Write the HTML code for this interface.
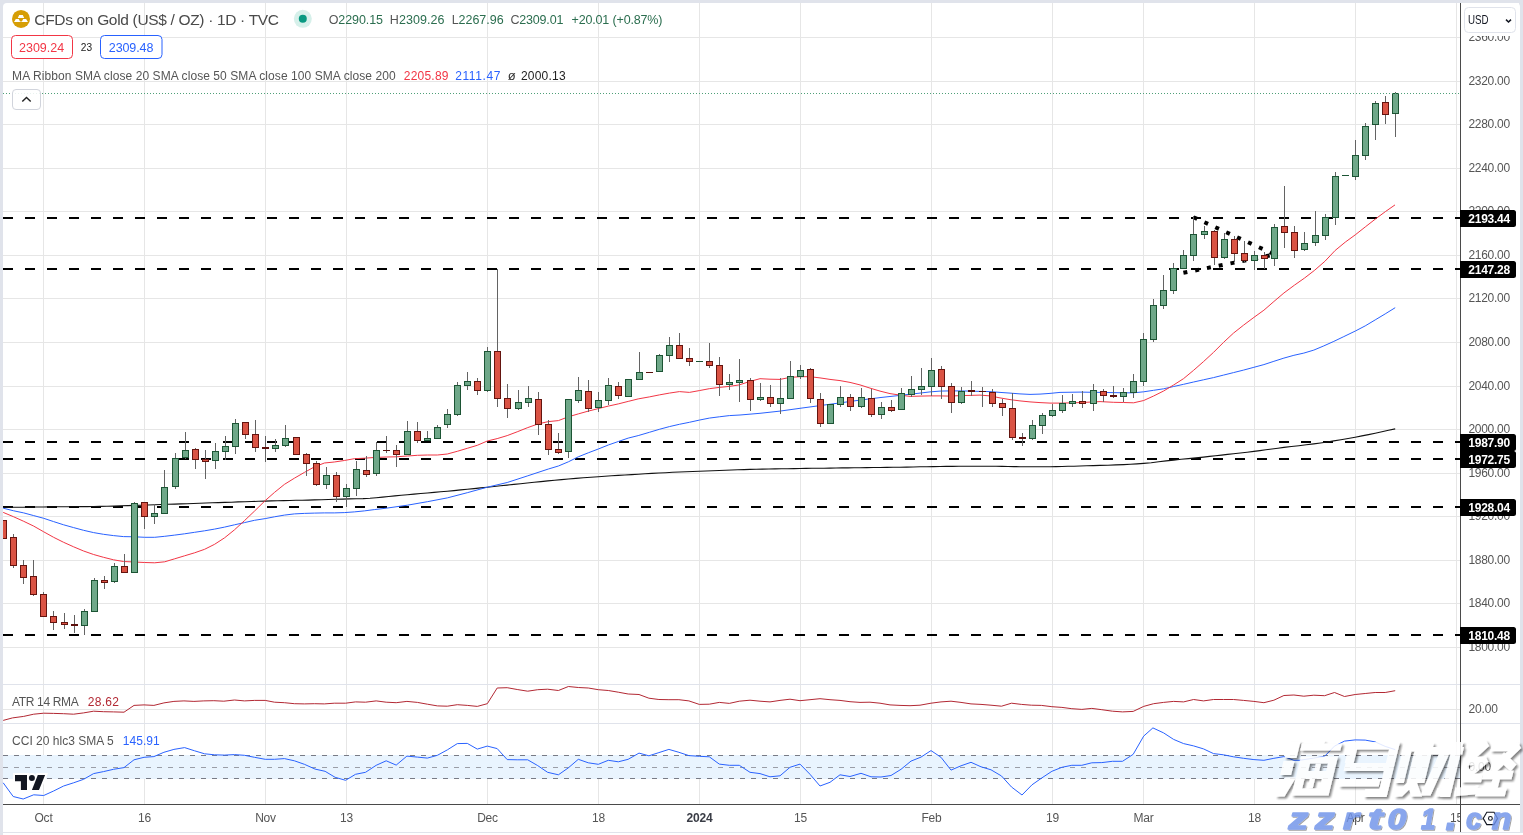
<!DOCTYPE html><html><head><meta charset="utf-8"><title>chart</title><style>
html,body{margin:0;padding:0;background:#fff;}body{width:1523px;height:835px;overflow:hidden;}
svg{display:block;opacity:0.999;font-family:"Liberation Sans", sans-serif;}
.c{shape-rendering:crispEdges}
.ax{font-size:12px;fill:#555;letter-spacing:-0.25px}
.bl{font-size:12px;fill:#fff;font-weight:bold;letter-spacing:-0.25px}
.tm{font-size:12px;fill:#555;text-anchor:middle;letter-spacing:-0.2px}
.lg{font-size:12px;fill:#555;letter-spacing:-0.15px}
</style></head><body>
<svg width="1523" height="835" viewBox="0 0 1523 835">
<rect x="0" y="0" width="1523" height="835" fill="#e0e3eb"/>
<rect x="3" y="3" width="1517" height="829" rx="4" ry="4" fill="#fff"/>
<rect x="3" y="10" width="1517" height="822" fill="#fff"/>
<rect x="3" y="833" width="1520" height="2" fill="#fff"/>
<g class="c">
<rect x="43" y="3" width="1" height="801" fill="#e6e6e6"/>
<rect x="144" y="3" width="1" height="801" fill="#e6e6e6"/>
<rect x="265" y="3" width="1" height="801" fill="#e6e6e6"/>
<rect x="346" y="3" width="1" height="801" fill="#e6e6e6"/>
<rect x="487" y="3" width="1" height="801" fill="#e6e6e6"/>
<rect x="598" y="3" width="1" height="801" fill="#e6e6e6"/>
<rect x="699" y="3" width="1" height="801" fill="#e6e6e6"/>
<rect x="800" y="3" width="1" height="801" fill="#e6e6e6"/>
<rect x="931" y="3" width="1" height="801" fill="#e6e6e6"/>
<rect x="1052" y="3" width="1" height="801" fill="#e6e6e6"/>
<rect x="1143" y="3" width="1" height="801" fill="#e6e6e6"/>
<rect x="1254" y="3" width="1" height="801" fill="#e6e6e6"/>
<rect x="1355" y="3" width="1" height="801" fill="#e6e6e6"/>
<rect x="1456" y="3" width="1" height="801" fill="#e6e6e6"/>
<rect x="3" y="37" width="1457" height="1" fill="#e6e6e6"/>
<rect x="3" y="81" width="1457" height="1" fill="#e6e6e6"/>
<rect x="3" y="124" width="1457" height="1" fill="#e6e6e6"/>
<rect x="3" y="168" width="1457" height="1" fill="#e6e6e6"/>
<rect x="3" y="211" width="1457" height="1" fill="#e6e6e6"/>
<rect x="3" y="255" width="1457" height="1" fill="#e6e6e6"/>
<rect x="3" y="298" width="1457" height="1" fill="#e6e6e6"/>
<rect x="3" y="342" width="1457" height="1" fill="#e6e6e6"/>
<rect x="3" y="386" width="1457" height="1" fill="#e6e6e6"/>
<rect x="3" y="429" width="1457" height="1" fill="#e6e6e6"/>
<rect x="3" y="473" width="1457" height="1" fill="#e6e6e6"/>
<rect x="3" y="516" width="1457" height="1" fill="#e6e6e6"/>
<rect x="3" y="560" width="1457" height="1" fill="#e6e6e6"/>
<rect x="3" y="603" width="1457" height="1" fill="#e6e6e6"/>
<rect x="3" y="647" width="1457" height="1" fill="#e6e6e6"/>
<rect x="3" y="709" width="1457" height="1" fill="#e6e6e6"/>
<rect x="3" y="767" width="1457" height="1" fill="#e6e6e6"/>
<rect x="3" y="755" width="1457" height="24" fill="#e9f4fe"/>
</g>
<line class="c" x1="3" x2="1460" y1="755.5" y2="755.5" stroke="#787b86" stroke-width="1" stroke-dasharray="5 6"/>
<line class="c" x1="3" x2="1460" y1="767.5" y2="767.5" stroke="#9a9da6" stroke-width="1" stroke-dasharray="5 6"/>
<line class="c" x1="3" x2="1460" y1="778.5" y2="778.5" stroke="#787b86" stroke-width="1" stroke-dasharray="5 6"/>
<g class="c">
<rect x="3" y="684" width="1517" height="1" fill="#e0e3eb"/>
<rect x="3" y="723" width="1517" height="1" fill="#e0e3eb"/>
</g>
<g class="c">
<line x1="3" x2="1460" y1="218" y2="218" stroke="#000" stroke-width="2" stroke-dasharray="10 12"/>
<line x1="3" x2="1460" y1="269" y2="269" stroke="#000" stroke-width="2" stroke-dasharray="10 12"/>
<line x1="3" x2="1460" y1="442" y2="442" stroke="#000" stroke-width="2" stroke-dasharray="10 12"/>
<line x1="3" x2="1460" y1="459" y2="459" stroke="#000" stroke-width="2" stroke-dasharray="10 12"/>
<line x1="3" x2="1460" y1="507" y2="507" stroke="#000" stroke-width="2" stroke-dasharray="10 12"/>
<line x1="3" x2="1460" y1="635" y2="635" stroke="#000" stroke-width="2" stroke-dasharray="10 12"/>
</g>
<line x1="1193.5" y1="217.2" x2="1272" y2="253.25" stroke="#000" stroke-width="4" stroke-dasharray="4 8"/>
<line x1="1183.4" y1="272.8" x2="1270.5" y2="255.37" stroke="#000" stroke-width="4" stroke-dasharray="4 8"/>
<polyline points="3.2,507.4 9.9,507.3 16.6,507.3 23.3,507.2 29.9,507.1 36.6,507.0 43.3,507.0 50.0,506.9 56.2,506.8 62.5,506.8 68.8,506.7 75.0,506.7 81.2,506.6 87.5,506.6 93.8,506.5 100.0,506.4 106.9,506.3 113.9,506.1 120.8,505.8 127.8,505.6 134.7,505.4 141.4,505.2 148.0,505.0 154.7,504.8 161.4,504.5 168.0,504.3 174.7,504.1 180.9,503.9 187.2,503.7 193.4,503.5 199.6,503.2 205.9,503.0 212.1,502.8 218.4,502.6 224.6,502.4 231.4,502.2 238.1,501.9 244.9,501.7 251.7,501.5 258.4,501.3 265.2,501.1 271.3,500.9 277.5,500.8 283.6,500.6 289.8,500.5 295.9,500.3 302.1,500.2 308.2,500.1 314.4,499.9 321.4,499.7 328.4,499.5 335.3,499.3 342.3,499.1 349.3,498.9 356.2,498.7 363.1,498.6 370.0,498.2 376.2,497.7 382.5,497.1 388.7,496.5 394.9,495.9 401.2,495.3 407.4,494.7 414.0,494.1 420.7,493.5 427.4,493.0 434.0,492.4 440.6,491.8 447.3,491.2 454.0,490.6 460.6,489.9 467.3,489.2 474.0,488.6 480.6,487.9 487.3,487.2 494.0,486.5 500.6,485.8 507.2,485.1 513.9,484.4 520.6,483.7 527.2,483.0 534.1,482.3 540.9,481.6 547.8,480.9 554.7,480.3 561.5,479.6 568.4,479.0 575.9,478.4 583.3,477.8 590.8,477.2 598.3,476.7 604.9,476.3 611.6,475.8 618.2,475.4 624.9,475.0 631.6,474.6 638.2,474.2 645.1,473.8 651.9,473.4 658.8,473.0 665.7,472.7 672.5,472.3 679.4,472.0 686.0,471.7 692.7,471.5 699.3,471.2 706.0,471.0 712.6,470.7 719.3,470.5 725.4,470.3 731.6,470.0 737.7,469.8 743.9,469.6 750.0,469.4 756.2,469.3 762.5,469.1 768.8,469.0 775.0,468.9 781.2,468.8 787.5,468.7 793.8,468.6 800.0,468.5 806.0,468.4 812.0,468.3 818.0,468.2 824.0,468.2 830.0,468.1 836.0,468.0 842.0,467.9 848.0,467.9 854.0,467.8 860.0,467.7 866.7,467.6 873.3,467.5 880.0,467.5 886.7,467.4 893.3,467.3 900.0,467.2 906.7,467.1 913.3,467.0 920.0,466.8 926.7,466.7 933.3,466.6 940.0,466.5 946.2,466.4 952.5,466.4 958.8,466.3 965.0,466.3 971.2,466.2 977.5,466.2 983.8,466.2 990.0,466.2 996.0,466.3 1002.0,466.4 1008.0,466.5 1014.0,466.6 1020.0,466.7 1026.0,466.7 1032.0,466.8 1038.0,466.8 1044.0,466.8 1050.0,466.7 1056.0,466.6 1062.0,466.5 1068.0,466.3 1074.0,466.2 1080.0,466.0 1086.7,465.8 1093.3,465.6 1100.0,465.4 1107.9,465.2 1115.8,464.9 1123.7,464.6 1130.4,464.3 1137.0,463.9 1143.7,463.4 1151.2,462.7 1158.7,461.8 1166.1,460.9 1173.6,460.1 1181.1,459.3 1188.5,458.6 1196.0,457.9 1203.5,457.1 1209.5,456.4 1215.5,455.8 1221.5,455.1 1227.5,454.4 1233.5,453.7 1240.3,453.0 1247.1,452.2 1253.9,451.4 1259.9,450.6 1265.9,449.8 1271.9,449.0 1277.9,448.2 1283.9,447.4 1291.4,446.5 1298.8,445.7 1306.3,444.8 1313.8,443.9 1320.5,443.0 1327.1,442.0 1333.8,440.9 1340.9,439.7 1348.1,438.5 1355.2,437.2 1361.9,435.9 1368.5,434.6 1375.2,433.2 1381.9,431.8 1388.5,430.3 1395.2,428.9" fill="none" stroke="#111" stroke-width="1.1" stroke-linejoin="round" />
<polyline points="3.2,508.2 13.7,510.8 23.7,512.9 33.7,515.6 43.7,518.3 53.6,521.6 63.6,524.8 73.6,527.6 83.6,530.3 93.6,532.6 103.5,534.3 113.5,535.6 123.5,536.6 134.7,536.8 144.7,537.3 154.7,537.3 164.7,536.3 174.7,535.1 184.6,533.8 194.6,532.3 204.6,530.8 214.6,529.1 224.6,527.1 234.5,524.8 244.5,522.6 254.5,520.3 265.2,518.6 274.5,516.8 284.4,515.1 294.4,513.9 304.4,513.4 314.4,513.1 324.4,512.9 334.3,512.9 344.3,512.6 354.3,511.9 364.3,510.9 374.3,509.6 386.2,508.2 407.4,505.2 427.4,501.7 447.3,497.9 467.3,492.7 487.3,487.2 507.2,482.5 527.2,476.0 548.4,469.0 558.4,466.0 568.4,461.8 578.3,456.8 588.3,452.8 598.3,449.0 608.3,445.0 618.3,441.5 628.2,438.1 638.2,435.6 649.4,432.3 659.4,429.3 669.4,426.6 679.4,424.3 689.4,422.3 699.3,420.1 709.3,418.1 719.3,416.8 729.3,415.6 740.0,415.0 760.0,413.3 780.0,411.1 800.0,408.3 820.0,405.6 840.0,402.9 860.0,400.1 880.0,397.6 900.0,395.4 920.0,393.1 930.0,391.9 940.0,391.1 950.0,390.9 960.0,390.9 970.0,391.1 980.0,391.4 990.0,391.6 1000.0,392.4 1010.0,393.1 1020.0,393.9 1030.0,394.4 1040.0,394.1 1050.0,393.4 1060.0,392.4 1080.0,392.1 1100.0,392.4 1123.7,392.8 1133.7,392.8 1143.7,391.8 1153.6,390.3 1163.6,388.8 1173.6,386.5 1183.6,384.3 1193.6,382.0 1203.5,379.8 1213.5,377.6 1223.5,375.1 1233.5,372.6 1243.5,370.1 1253.9,367.3 1263.9,364.6 1273.9,361.3 1283.9,358.1 1293.9,355.3 1303.8,353.1 1313.8,350.1 1323.8,345.9 1333.8,341.4 1343.8,336.6 1355.2,331.1 1365.2,325.9 1375.2,319.9 1385.2,313.9 1395.2,307.7" fill="none" stroke="#2962ff" stroke-width="1.0" stroke-linejoin="round" />
<polyline points="3.2,512.4 13.7,516.8 23.7,521.3 33.7,526.1 43.7,531.8 53.6,537.3 63.6,542.3 73.6,546.8 83.6,551.0 93.6,554.5 103.5,557.3 113.5,559.8 123.5,561.5 134.7,562.0 144.7,562.5 154.7,562.8 164.7,561.8 174.7,558.8 184.6,555.8 194.6,552.8 204.6,549.3 214.6,544.3 224.6,537.8 234.5,529.8 244.5,520.6 254.5,511.1 265.2,500.6 274.5,492.4 284.4,484.4 294.4,478.2 304.4,472.4 314.4,466.9 324.4,463.0 334.3,462.0 344.3,460.5 354.3,458.7 364.3,458.2 374.3,457.5 386.2,457.0 396.2,456.8 407.4,456.0 417.4,455.3 427.4,455.0 437.4,455.0 447.3,454.0 457.3,451.3 467.3,448.3 477.3,445.3 487.3,441.0 497.2,438.6 507.2,435.6 517.2,431.8 527.2,427.8 538.4,423.8 548.4,421.6 558.4,420.6 568.4,416.8 578.3,413.9 588.3,411.1 598.3,408.6 608.3,406.1 618.3,403.9 628.2,401.4 638.2,398.9 649.4,396.9 659.4,394.9 669.4,393.1 679.4,391.6 689.4,392.4 699.3,390.6 709.3,388.7 719.3,387.4 729.3,386.4 739.3,384.9 750.0,381.4 760.0,378.7 770.0,379.2 780.0,379.4 790.0,377.4 800.0,376.7 810.0,376.7 820.0,377.9 830.0,379.4 840.0,380.6 850.0,382.4 860.0,384.9 870.0,388.1 880.0,391.1 890.0,393.6 900.0,395.1 910.0,396.4 920.0,396.1 930.0,395.9 940.0,395.9 950.0,396.1 960.0,395.6 970.0,395.4 980.0,395.1 990.0,395.9 1000.0,397.9 1010.0,399.6 1020.0,400.9 1030.0,401.9 1040.0,402.6 1050.0,403.1 1060.0,403.1 1070.0,402.9 1080.0,402.6 1090.0,402.1 1100.0,401.6 1113.7,402.3 1123.7,402.5 1133.7,402.8 1143.7,400.5 1153.6,396.0 1163.6,391.0 1173.6,385.0 1183.6,378.6 1193.6,370.3 1203.5,361.6 1213.5,352.4 1223.5,342.4 1233.5,333.1 1243.5,325.2 1253.9,317.4 1263.9,310.2 1273.9,301.5 1283.9,293.0 1294.4,285.2 1304.6,278.0 1314.7,270.2 1324.9,261.3 1335.1,250.5 1345.3,242.1 1355.2,234.9 1365.3,226.9 1375.3,219.1 1385.4,211.6 1395.0,204.9" fill="none" stroke="#f23645" stroke-width="1.0" stroke-linejoin="round" />
<clipPath id="mc"><rect x="3" y="3" width="1457" height="801"/></clipPath>
<g class="c" clip-path="url(#mc)">
<rect x="3" y="520" width="1" height="19" fill="#636363"/>
<rect x="0" y="520" width="7" height="19" fill="#64140f"/>
<rect x="1" y="521" width="5" height="17" fill="#da5344"/>
<rect x="13" y="534" width="1" height="34" fill="#636363"/>
<rect x="10" y="537" width="7" height="29" fill="#64140f"/>
<rect x="11" y="538" width="5" height="27" fill="#da5344"/>
<rect x="23" y="560" width="1" height="24" fill="#636363"/>
<rect x="20" y="565" width="7" height="13" fill="#64140f"/>
<rect x="21" y="566" width="5" height="11" fill="#da5344"/>
<rect x="33" y="560" width="1" height="36" fill="#636363"/>
<rect x="30" y="576" width="7" height="19" fill="#64140f"/>
<rect x="31" y="577" width="5" height="17" fill="#da5344"/>
<rect x="43" y="592" width="1" height="25" fill="#636363"/>
<rect x="40" y="594" width="7" height="23" fill="#64140f"/>
<rect x="41" y="595" width="5" height="21" fill="#da5344"/>
<rect x="53" y="611" width="1" height="19" fill="#636363"/>
<rect x="50" y="616" width="7" height="7" fill="#64140f"/>
<rect x="51" y="617" width="5" height="5" fill="#da5344"/>
<rect x="64" y="613" width="1" height="16" fill="#636363"/>
<rect x="61" y="622" width="7" height="3" fill="#64140f"/>
<rect x="62" y="623" width="5" height="1" fill="#da5344"/>
<rect x="74" y="615" width="1" height="18" fill="#636363"/>
<rect x="71" y="624" width="7" height="2" fill="#5c100c"/>
<rect x="84" y="609" width="1" height="26" fill="#636363"/>
<rect x="81" y="611" width="7" height="15" fill="#1c5434"/>
<rect x="82" y="612" width="5" height="13" fill="#6fa889"/>
<rect x="94" y="578" width="1" height="34" fill="#636363"/>
<rect x="91" y="580" width="7" height="32" fill="#1c5434"/>
<rect x="92" y="581" width="5" height="30" fill="#6fa889"/>
<rect x="104" y="576" width="1" height="13" fill="#636363"/>
<rect x="101" y="580" width="7" height="3" fill="#64140f"/>
<rect x="102" y="581" width="5" height="1" fill="#da5344"/>
<rect x="114" y="563" width="1" height="20" fill="#636363"/>
<rect x="111" y="566" width="7" height="16" fill="#1c5434"/>
<rect x="112" y="567" width="5" height="14" fill="#6fa889"/>
<rect x="124" y="554" width="1" height="19" fill="#636363"/>
<rect x="121" y="566" width="7" height="7" fill="#64140f"/>
<rect x="122" y="567" width="5" height="5" fill="#da5344"/>
<rect x="134" y="502" width="1" height="71" fill="#636363"/>
<rect x="131" y="503" width="7" height="70" fill="#1c5434"/>
<rect x="132" y="504" width="5" height="68" fill="#6fa889"/>
<rect x="144" y="502" width="1" height="27" fill="#636363"/>
<rect x="141" y="502" width="7" height="15" fill="#64140f"/>
<rect x="142" y="503" width="5" height="13" fill="#da5344"/>
<rect x="154" y="504" width="1" height="20" fill="#636363"/>
<rect x="151" y="513" width="7" height="4" fill="#1c5434"/>
<rect x="152" y="514" width="5" height="2" fill="#6fa889"/>
<rect x="164" y="470" width="1" height="44" fill="#636363"/>
<rect x="161" y="487" width="7" height="27" fill="#1c5434"/>
<rect x="162" y="488" width="5" height="25" fill="#6fa889"/>
<rect x="175" y="453" width="1" height="36" fill="#636363"/>
<rect x="172" y="458" width="7" height="29" fill="#1c5434"/>
<rect x="173" y="459" width="5" height="27" fill="#6fa889"/>
<rect x="185" y="432" width="1" height="27" fill="#636363"/>
<rect x="182" y="450" width="7" height="8" fill="#1c5434"/>
<rect x="183" y="451" width="5" height="6" fill="#6fa889"/>
<rect x="195" y="448" width="1" height="21" fill="#636363"/>
<rect x="192" y="449" width="7" height="11" fill="#64140f"/>
<rect x="193" y="450" width="5" height="9" fill="#da5344"/>
<rect x="205" y="450" width="1" height="29" fill="#636363"/>
<rect x="202" y="459" width="7" height="3" fill="#64140f"/>
<rect x="203" y="460" width="5" height="1" fill="#da5344"/>
<rect x="215" y="443" width="1" height="26" fill="#636363"/>
<rect x="212" y="451" width="7" height="10" fill="#1c5434"/>
<rect x="213" y="452" width="5" height="8" fill="#6fa889"/>
<rect x="225" y="436" width="1" height="24" fill="#636363"/>
<rect x="222" y="446" width="7" height="6" fill="#1c5434"/>
<rect x="223" y="447" width="5" height="4" fill="#6fa889"/>
<rect x="235" y="419" width="1" height="35" fill="#636363"/>
<rect x="232" y="423" width="7" height="24" fill="#1c5434"/>
<rect x="233" y="424" width="5" height="22" fill="#6fa889"/>
<rect x="245" y="422" width="1" height="17" fill="#636363"/>
<rect x="242" y="422" width="7" height="13" fill="#64140f"/>
<rect x="243" y="423" width="5" height="11" fill="#da5344"/>
<rect x="255" y="420" width="1" height="32" fill="#636363"/>
<rect x="252" y="434" width="7" height="14" fill="#64140f"/>
<rect x="253" y="435" width="5" height="12" fill="#da5344"/>
<rect x="265" y="436" width="1" height="26" fill="#636363"/>
<rect x="262" y="447" width="7" height="2" fill="#5c100c"/>
<rect x="275" y="439" width="1" height="13" fill="#636363"/>
<rect x="272" y="445" width="7" height="4" fill="#1c5434"/>
<rect x="273" y="446" width="5" height="2" fill="#6fa889"/>
<rect x="285" y="425" width="1" height="22" fill="#636363"/>
<rect x="282" y="438" width="7" height="8" fill="#1c5434"/>
<rect x="283" y="439" width="5" height="6" fill="#6fa889"/>
<rect x="296" y="437" width="1" height="18" fill="#636363"/>
<rect x="293" y="437" width="7" height="18" fill="#64140f"/>
<rect x="294" y="438" width="5" height="16" fill="#da5344"/>
<rect x="306" y="453" width="1" height="23" fill="#636363"/>
<rect x="303" y="454" width="7" height="10" fill="#64140f"/>
<rect x="304" y="455" width="5" height="8" fill="#da5344"/>
<rect x="316" y="461" width="1" height="25" fill="#636363"/>
<rect x="313" y="463" width="7" height="22" fill="#64140f"/>
<rect x="314" y="464" width="5" height="20" fill="#da5344"/>
<rect x="326" y="467" width="1" height="22" fill="#636363"/>
<rect x="323" y="475" width="7" height="10" fill="#1c5434"/>
<rect x="324" y="476" width="5" height="8" fill="#6fa889"/>
<rect x="336" y="472" width="1" height="30" fill="#636363"/>
<rect x="333" y="475" width="7" height="22" fill="#64140f"/>
<rect x="334" y="476" width="5" height="20" fill="#da5344"/>
<rect x="346" y="484" width="1" height="23" fill="#636363"/>
<rect x="343" y="488" width="7" height="9" fill="#1c5434"/>
<rect x="344" y="489" width="5" height="7" fill="#6fa889"/>
<rect x="356" y="461" width="1" height="35" fill="#636363"/>
<rect x="353" y="469" width="7" height="20" fill="#1c5434"/>
<rect x="354" y="470" width="5" height="18" fill="#6fa889"/>
<rect x="366" y="456" width="1" height="21" fill="#636363"/>
<rect x="363" y="470" width="7" height="5" fill="#64140f"/>
<rect x="364" y="471" width="5" height="3" fill="#da5344"/>
<rect x="376" y="442" width="1" height="34" fill="#636363"/>
<rect x="373" y="450" width="7" height="24" fill="#1c5434"/>
<rect x="374" y="451" width="5" height="22" fill="#6fa889"/>
<rect x="386" y="436" width="1" height="17" fill="#636363"/>
<rect x="383" y="450" width="7" height="1" fill="#5c100c"/>
<rect x="396" y="445" width="1" height="22" fill="#636363"/>
<rect x="393" y="450" width="7" height="5" fill="#64140f"/>
<rect x="394" y="451" width="5" height="3" fill="#da5344"/>
<rect x="407" y="421" width="1" height="34" fill="#636363"/>
<rect x="404" y="431" width="7" height="24" fill="#1c5434"/>
<rect x="405" y="432" width="5" height="22" fill="#6fa889"/>
<rect x="417" y="422" width="1" height="21" fill="#636363"/>
<rect x="414" y="431" width="7" height="10" fill="#64140f"/>
<rect x="415" y="432" width="5" height="8" fill="#da5344"/>
<rect x="427" y="431" width="1" height="10" fill="#636363"/>
<rect x="424" y="438" width="7" height="3" fill="#1c5434"/>
<rect x="425" y="439" width="5" height="1" fill="#6fa889"/>
<rect x="437" y="425" width="1" height="14" fill="#636363"/>
<rect x="434" y="427" width="7" height="12" fill="#1c5434"/>
<rect x="435" y="428" width="5" height="10" fill="#6fa889"/>
<rect x="447" y="409" width="1" height="19" fill="#636363"/>
<rect x="444" y="414" width="7" height="11" fill="#1c5434"/>
<rect x="445" y="415" width="5" height="9" fill="#6fa889"/>
<rect x="457" y="382" width="1" height="34" fill="#636363"/>
<rect x="454" y="385" width="7" height="30" fill="#1c5434"/>
<rect x="455" y="386" width="5" height="28" fill="#6fa889"/>
<rect x="467" y="372" width="1" height="18" fill="#636363"/>
<rect x="464" y="381" width="7" height="5" fill="#1c5434"/>
<rect x="465" y="382" width="5" height="3" fill="#6fa889"/>
<rect x="477" y="378" width="1" height="17" fill="#636363"/>
<rect x="474" y="381" width="7" height="10" fill="#64140f"/>
<rect x="475" y="382" width="5" height="8" fill="#da5344"/>
<rect x="487" y="347" width="1" height="45" fill="#636363"/>
<rect x="484" y="351" width="7" height="40" fill="#1c5434"/>
<rect x="485" y="352" width="5" height="38" fill="#6fa889"/>
<rect x="497" y="269" width="1" height="138" fill="#636363"/>
<rect x="494" y="351" width="7" height="48" fill="#64140f"/>
<rect x="495" y="352" width="5" height="46" fill="#da5344"/>
<rect x="507" y="384" width="1" height="34" fill="#636363"/>
<rect x="504" y="398" width="7" height="11" fill="#64140f"/>
<rect x="505" y="399" width="5" height="9" fill="#da5344"/>
<rect x="518" y="390" width="1" height="20" fill="#636363"/>
<rect x="515" y="402" width="7" height="7" fill="#1c5434"/>
<rect x="516" y="403" width="5" height="5" fill="#6fa889"/>
<rect x="528" y="386" width="1" height="21" fill="#636363"/>
<rect x="525" y="398" width="7" height="5" fill="#1c5434"/>
<rect x="526" y="399" width="5" height="3" fill="#6fa889"/>
<rect x="538" y="392" width="1" height="43" fill="#636363"/>
<rect x="535" y="399" width="7" height="26" fill="#64140f"/>
<rect x="536" y="400" width="5" height="24" fill="#da5344"/>
<rect x="548" y="420" width="1" height="35" fill="#636363"/>
<rect x="545" y="424" width="7" height="26" fill="#64140f"/>
<rect x="546" y="425" width="5" height="24" fill="#da5344"/>
<rect x="558" y="433" width="1" height="21" fill="#636363"/>
<rect x="555" y="449" width="7" height="4" fill="#64140f"/>
<rect x="556" y="450" width="5" height="2" fill="#da5344"/>
<rect x="568" y="399" width="1" height="59" fill="#636363"/>
<rect x="565" y="399" width="7" height="53" fill="#1c5434"/>
<rect x="566" y="400" width="5" height="51" fill="#6fa889"/>
<rect x="578" y="377" width="1" height="26" fill="#636363"/>
<rect x="575" y="390" width="7" height="11" fill="#1c5434"/>
<rect x="576" y="391" width="5" height="9" fill="#6fa889"/>
<rect x="588" y="380" width="1" height="32" fill="#636363"/>
<rect x="585" y="391" width="7" height="18" fill="#64140f"/>
<rect x="586" y="392" width="5" height="16" fill="#da5344"/>
<rect x="598" y="392" width="1" height="20" fill="#636363"/>
<rect x="595" y="400" width="7" height="8" fill="#1c5434"/>
<rect x="596" y="401" width="5" height="6" fill="#6fa889"/>
<rect x="608" y="378" width="1" height="27" fill="#636363"/>
<rect x="605" y="385" width="7" height="16" fill="#1c5434"/>
<rect x="606" y="386" width="5" height="14" fill="#6fa889"/>
<rect x="618" y="382" width="1" height="17" fill="#636363"/>
<rect x="615" y="386" width="7" height="10" fill="#64140f"/>
<rect x="616" y="387" width="5" height="8" fill="#da5344"/>
<rect x="628" y="379" width="1" height="18" fill="#636363"/>
<rect x="625" y="379" width="7" height="18" fill="#1c5434"/>
<rect x="626" y="380" width="5" height="16" fill="#6fa889"/>
<rect x="639" y="352" width="1" height="28" fill="#636363"/>
<rect x="636" y="372" width="7" height="8" fill="#1c5434"/>
<rect x="637" y="373" width="5" height="6" fill="#6fa889"/>
<rect x="649" y="372" width="1" height="1" fill="#636363"/>
<rect x="646" y="372" width="7" height="1" fill="#5c100c"/>
<rect x="659" y="354" width="1" height="18" fill="#636363"/>
<rect x="656" y="355" width="7" height="17" fill="#1c5434"/>
<rect x="657" y="356" width="5" height="15" fill="#6fa889"/>
<rect x="669" y="337" width="1" height="25" fill="#636363"/>
<rect x="666" y="345" width="7" height="11" fill="#1c5434"/>
<rect x="667" y="346" width="5" height="9" fill="#6fa889"/>
<rect x="679" y="333" width="1" height="26" fill="#636363"/>
<rect x="676" y="345" width="7" height="14" fill="#64140f"/>
<rect x="677" y="346" width="5" height="12" fill="#da5344"/>
<rect x="689" y="348" width="1" height="18" fill="#636363"/>
<rect x="686" y="358" width="7" height="4" fill="#64140f"/>
<rect x="687" y="359" width="5" height="2" fill="#da5344"/>
<rect x="699" y="361" width="1" height="1" fill="#636363"/>
<rect x="696" y="361" width="7" height="1" fill="#1c5434"/>
<rect x="709" y="343" width="1" height="25" fill="#636363"/>
<rect x="706" y="361" width="7" height="5" fill="#64140f"/>
<rect x="707" y="362" width="5" height="3" fill="#da5344"/>
<rect x="719" y="357" width="1" height="39" fill="#636363"/>
<rect x="716" y="365" width="7" height="20" fill="#64140f"/>
<rect x="717" y="366" width="5" height="18" fill="#da5344"/>
<rect x="729" y="374" width="1" height="16" fill="#636363"/>
<rect x="726" y="382" width="7" height="3" fill="#1c5434"/>
<rect x="727" y="383" width="5" height="1" fill="#6fa889"/>
<rect x="739" y="359" width="1" height="43" fill="#636363"/>
<rect x="736" y="380" width="7" height="3" fill="#1c5434"/>
<rect x="737" y="381" width="5" height="1" fill="#6fa889"/>
<rect x="750" y="378" width="1" height="33" fill="#636363"/>
<rect x="747" y="380" width="7" height="20" fill="#64140f"/>
<rect x="748" y="381" width="5" height="18" fill="#da5344"/>
<rect x="760" y="383" width="1" height="18" fill="#636363"/>
<rect x="757" y="397" width="7" height="3" fill="#1c5434"/>
<rect x="758" y="398" width="5" height="1" fill="#6fa889"/>
<rect x="770" y="385" width="1" height="22" fill="#636363"/>
<rect x="767" y="397" width="7" height="7" fill="#64140f"/>
<rect x="768" y="398" width="5" height="5" fill="#da5344"/>
<rect x="780" y="378" width="1" height="36" fill="#636363"/>
<rect x="777" y="398" width="7" height="6" fill="#1c5434"/>
<rect x="778" y="399" width="5" height="4" fill="#6fa889"/>
<rect x="790" y="361" width="1" height="38" fill="#636363"/>
<rect x="787" y="376" width="7" height="23" fill="#1c5434"/>
<rect x="788" y="377" width="5" height="21" fill="#6fa889"/>
<rect x="800" y="365" width="1" height="14" fill="#636363"/>
<rect x="797" y="370" width="7" height="7" fill="#1c5434"/>
<rect x="798" y="371" width="5" height="5" fill="#6fa889"/>
<rect x="810" y="368" width="1" height="35" fill="#636363"/>
<rect x="807" y="369" width="7" height="30" fill="#64140f"/>
<rect x="808" y="370" width="5" height="28" fill="#da5344"/>
<rect x="820" y="393" width="1" height="34" fill="#636363"/>
<rect x="817" y="399" width="7" height="25" fill="#64140f"/>
<rect x="818" y="400" width="5" height="23" fill="#da5344"/>
<rect x="830" y="404" width="1" height="20" fill="#636363"/>
<rect x="827" y="404" width="7" height="20" fill="#1c5434"/>
<rect x="828" y="405" width="5" height="18" fill="#6fa889"/>
<rect x="840" y="386" width="1" height="21" fill="#636363"/>
<rect x="837" y="397" width="7" height="8" fill="#1c5434"/>
<rect x="838" y="398" width="5" height="6" fill="#6fa889"/>
<rect x="850" y="394" width="1" height="17" fill="#636363"/>
<rect x="847" y="397" width="7" height="10" fill="#64140f"/>
<rect x="848" y="398" width="5" height="8" fill="#da5344"/>
<rect x="861" y="388" width="1" height="20" fill="#636363"/>
<rect x="858" y="397" width="7" height="10" fill="#1c5434"/>
<rect x="859" y="398" width="5" height="8" fill="#6fa889"/>
<rect x="871" y="389" width="1" height="28" fill="#636363"/>
<rect x="868" y="398" width="7" height="17" fill="#64140f"/>
<rect x="869" y="399" width="5" height="15" fill="#da5344"/>
<rect x="881" y="402" width="1" height="17" fill="#636363"/>
<rect x="878" y="407" width="7" height="8" fill="#1c5434"/>
<rect x="879" y="408" width="5" height="6" fill="#6fa889"/>
<rect x="891" y="400" width="1" height="12" fill="#636363"/>
<rect x="888" y="407" width="7" height="4" fill="#64140f"/>
<rect x="889" y="408" width="5" height="2" fill="#da5344"/>
<rect x="901" y="388" width="1" height="22" fill="#636363"/>
<rect x="898" y="393" width="7" height="17" fill="#1c5434"/>
<rect x="899" y="394" width="5" height="15" fill="#6fa889"/>
<rect x="911" y="376" width="1" height="21" fill="#636363"/>
<rect x="908" y="389" width="7" height="6" fill="#1c5434"/>
<rect x="909" y="390" width="5" height="4" fill="#6fa889"/>
<rect x="921" y="368" width="1" height="27" fill="#636363"/>
<rect x="918" y="386" width="7" height="4" fill="#1c5434"/>
<rect x="919" y="387" width="5" height="2" fill="#6fa889"/>
<rect x="931" y="358" width="1" height="38" fill="#636363"/>
<rect x="928" y="370" width="7" height="17" fill="#1c5434"/>
<rect x="929" y="371" width="5" height="15" fill="#6fa889"/>
<rect x="941" y="366" width="1" height="33" fill="#636363"/>
<rect x="938" y="369" width="7" height="18" fill="#64140f"/>
<rect x="939" y="370" width="5" height="16" fill="#da5344"/>
<rect x="951" y="383" width="1" height="30" fill="#636363"/>
<rect x="948" y="386" width="7" height="17" fill="#64140f"/>
<rect x="949" y="387" width="5" height="15" fill="#da5344"/>
<rect x="961" y="387" width="1" height="17" fill="#636363"/>
<rect x="958" y="391" width="7" height="12" fill="#1c5434"/>
<rect x="959" y="392" width="5" height="10" fill="#6fa889"/>
<rect x="971" y="381" width="1" height="15" fill="#636363"/>
<rect x="968" y="390" width="7" height="2" fill="#5c100c"/>
<rect x="982" y="387" width="1" height="20" fill="#636363"/>
<rect x="979" y="391" width="7" height="1" fill="#5c100c"/>
<rect x="992" y="389" width="1" height="18" fill="#636363"/>
<rect x="989" y="392" width="7" height="12" fill="#64140f"/>
<rect x="990" y="393" width="5" height="10" fill="#da5344"/>
<rect x="1002" y="399" width="1" height="17" fill="#636363"/>
<rect x="999" y="403" width="7" height="5" fill="#64140f"/>
<rect x="1000" y="404" width="5" height="3" fill="#da5344"/>
<rect x="1012" y="393" width="1" height="47" fill="#636363"/>
<rect x="1009" y="408" width="7" height="30" fill="#64140f"/>
<rect x="1010" y="409" width="5" height="28" fill="#da5344"/>
<rect x="1022" y="433" width="1" height="13" fill="#636363"/>
<rect x="1019" y="437" width="7" height="2" fill="#5c100c"/>
<rect x="1032" y="420" width="1" height="20" fill="#636363"/>
<rect x="1029" y="425" width="7" height="14" fill="#1c5434"/>
<rect x="1030" y="426" width="5" height="12" fill="#6fa889"/>
<rect x="1042" y="413" width="1" height="21" fill="#636363"/>
<rect x="1039" y="415" width="7" height="11" fill="#1c5434"/>
<rect x="1040" y="416" width="5" height="9" fill="#6fa889"/>
<rect x="1052" y="404" width="1" height="13" fill="#636363"/>
<rect x="1049" y="410" width="7" height="6" fill="#1c5434"/>
<rect x="1050" y="411" width="5" height="4" fill="#6fa889"/>
<rect x="1062" y="395" width="1" height="18" fill="#636363"/>
<rect x="1059" y="403" width="7" height="8" fill="#1c5434"/>
<rect x="1060" y="404" width="5" height="6" fill="#6fa889"/>
<rect x="1072" y="394" width="1" height="13" fill="#636363"/>
<rect x="1069" y="401" width="7" height="3" fill="#1c5434"/>
<rect x="1070" y="402" width="5" height="1" fill="#6fa889"/>
<rect x="1082" y="391" width="1" height="17" fill="#636363"/>
<rect x="1079" y="401" width="7" height="3" fill="#64140f"/>
<rect x="1080" y="402" width="5" height="1" fill="#da5344"/>
<rect x="1093" y="384" width="1" height="27" fill="#636363"/>
<rect x="1090" y="390" width="7" height="14" fill="#1c5434"/>
<rect x="1091" y="391" width="5" height="12" fill="#6fa889"/>
<rect x="1103" y="389" width="1" height="13" fill="#636363"/>
<rect x="1100" y="391" width="7" height="5" fill="#64140f"/>
<rect x="1101" y="392" width="5" height="3" fill="#da5344"/>
<rect x="1113" y="386" width="1" height="12" fill="#636363"/>
<rect x="1110" y="395" width="7" height="2" fill="#5c100c"/>
<rect x="1123" y="388" width="1" height="14" fill="#636363"/>
<rect x="1120" y="392" width="7" height="5" fill="#1c5434"/>
<rect x="1121" y="393" width="5" height="3" fill="#6fa889"/>
<rect x="1133" y="374" width="1" height="24" fill="#636363"/>
<rect x="1130" y="381" width="7" height="12" fill="#1c5434"/>
<rect x="1131" y="382" width="5" height="10" fill="#6fa889"/>
<rect x="1143" y="333" width="1" height="53" fill="#636363"/>
<rect x="1140" y="339" width="7" height="43" fill="#1c5434"/>
<rect x="1141" y="340" width="5" height="41" fill="#6fa889"/>
<rect x="1153" y="299" width="1" height="43" fill="#636363"/>
<rect x="1150" y="305" width="7" height="35" fill="#1c5434"/>
<rect x="1151" y="306" width="5" height="33" fill="#6fa889"/>
<rect x="1163" y="275" width="1" height="34" fill="#636363"/>
<rect x="1160" y="290" width="7" height="16" fill="#1c5434"/>
<rect x="1161" y="291" width="5" height="14" fill="#6fa889"/>
<rect x="1173" y="263" width="1" height="31" fill="#636363"/>
<rect x="1170" y="268" width="7" height="23" fill="#1c5434"/>
<rect x="1171" y="269" width="5" height="21" fill="#6fa889"/>
<rect x="1183" y="250" width="1" height="19" fill="#636363"/>
<rect x="1180" y="255" width="7" height="14" fill="#1c5434"/>
<rect x="1181" y="256" width="5" height="12" fill="#6fa889"/>
<rect x="1193" y="216" width="1" height="45" fill="#636363"/>
<rect x="1190" y="234" width="7" height="22" fill="#1c5434"/>
<rect x="1191" y="235" width="5" height="20" fill="#6fa889"/>
<rect x="1204" y="226" width="1" height="13" fill="#636363"/>
<rect x="1201" y="231" width="7" height="4" fill="#1c5434"/>
<rect x="1202" y="232" width="5" height="2" fill="#6fa889"/>
<rect x="1214" y="230" width="1" height="35" fill="#636363"/>
<rect x="1211" y="231" width="7" height="27" fill="#64140f"/>
<rect x="1212" y="232" width="5" height="25" fill="#da5344"/>
<rect x="1224" y="233" width="1" height="26" fill="#636363"/>
<rect x="1221" y="239" width="7" height="19" fill="#1c5434"/>
<rect x="1222" y="240" width="5" height="17" fill="#6fa889"/>
<rect x="1234" y="236" width="1" height="26" fill="#636363"/>
<rect x="1231" y="239" width="7" height="15" fill="#64140f"/>
<rect x="1232" y="240" width="5" height="13" fill="#da5344"/>
<rect x="1244" y="241" width="1" height="21" fill="#636363"/>
<rect x="1241" y="253" width="7" height="8" fill="#64140f"/>
<rect x="1242" y="254" width="5" height="6" fill="#da5344"/>
<rect x="1254" y="251" width="1" height="19" fill="#636363"/>
<rect x="1251" y="255" width="7" height="6" fill="#1c5434"/>
<rect x="1252" y="256" width="5" height="4" fill="#6fa889"/>
<rect x="1264" y="252" width="1" height="17" fill="#636363"/>
<rect x="1261" y="255" width="7" height="4" fill="#64140f"/>
<rect x="1262" y="256" width="5" height="2" fill="#da5344"/>
<rect x="1274" y="224" width="1" height="42" fill="#636363"/>
<rect x="1271" y="227" width="7" height="32" fill="#1c5434"/>
<rect x="1272" y="228" width="5" height="30" fill="#6fa889"/>
<rect x="1284" y="186" width="1" height="62" fill="#636363"/>
<rect x="1281" y="226" width="7" height="7" fill="#64140f"/>
<rect x="1282" y="227" width="5" height="5" fill="#da5344"/>
<rect x="1294" y="226" width="1" height="32" fill="#636363"/>
<rect x="1291" y="232" width="7" height="19" fill="#64140f"/>
<rect x="1292" y="233" width="5" height="17" fill="#da5344"/>
<rect x="1304" y="232" width="1" height="19" fill="#636363"/>
<rect x="1301" y="243" width="7" height="7" fill="#1c5434"/>
<rect x="1302" y="244" width="5" height="5" fill="#6fa889"/>
<rect x="1315" y="211" width="1" height="35" fill="#636363"/>
<rect x="1312" y="235" width="7" height="8" fill="#1c5434"/>
<rect x="1313" y="236" width="5" height="6" fill="#6fa889"/>
<rect x="1325" y="214" width="1" height="26" fill="#636363"/>
<rect x="1322" y="217" width="7" height="19" fill="#1c5434"/>
<rect x="1323" y="218" width="5" height="17" fill="#6fa889"/>
<rect x="1335" y="172" width="1" height="53" fill="#636363"/>
<rect x="1332" y="176" width="7" height="42" fill="#1c5434"/>
<rect x="1333" y="177" width="5" height="40" fill="#6fa889"/>
<rect x="1345" y="175" width="1" height="1" fill="#636363"/>
<rect x="1342" y="175" width="7" height="1" fill="#1c5434"/>
<rect x="1355" y="140" width="1" height="40" fill="#636363"/>
<rect x="1352" y="155" width="7" height="22" fill="#1c5434"/>
<rect x="1353" y="156" width="5" height="20" fill="#6fa889"/>
<rect x="1365" y="123" width="1" height="37" fill="#636363"/>
<rect x="1362" y="126" width="7" height="30" fill="#1c5434"/>
<rect x="1363" y="127" width="5" height="28" fill="#6fa889"/>
<rect x="1375" y="101" width="1" height="39" fill="#636363"/>
<rect x="1372" y="103" width="7" height="22" fill="#1c5434"/>
<rect x="1373" y="104" width="5" height="20" fill="#6fa889"/>
<rect x="1385" y="96" width="1" height="28" fill="#636363"/>
<rect x="1382" y="102" width="7" height="13" fill="#64140f"/>
<rect x="1383" y="103" width="5" height="11" fill="#da5344"/>
<rect x="1395" y="92" width="1" height="45" fill="#636363"/>
<rect x="1392" y="93" width="7" height="21" fill="#1c5434"/>
<rect x="1393" y="94" width="5" height="19" fill="#6fa889"/>
</g>
<line class="c" x1="3" x2="1460" y1="93.5" y2="93.5" stroke="#4f9f78" stroke-width="1" stroke-dasharray="1 2"/>
<polyline points="3.2,720.4 12.5,717.9 23.7,716.4 33.7,714.2 43.7,713.2 53.6,713.4 63.6,713.7 73.6,714.2 83.6,712.9 93.6,711.2 103.5,711.7 113.5,711.9 124.0,712.2 134.0,705.4 144.0,704.9 153.9,705.4 163.9,702.9 173.9,701.4 183.9,700.9 193.9,701.4 203.8,700.9 213.8,700.7 223.8,701.2 234.5,700.0 244.5,700.9 254.5,700.4 265.2,700.4 274.5,702.2 284.4,702.7 294.4,703.7 304.4,703.9 314.4,703.7 324.4,703.9 334.3,703.2 345.6,703.2 355.5,701.9 365.5,702.2 376.2,700.9 386.2,702.2 396.2,702.7 406.9,701.4 417.4,702.4 427.4,704.2 437.4,705.9 447.3,706.2 457.3,704.7 467.3,705.4 477.3,706.4 487.3,703.7 497.2,688.0 507.2,687.7 517.2,689.5 527.7,691.2 537.7,689.7 547.6,689.2 558.4,690.5 568.4,686.5 578.3,687.5 588.3,688.0 598.3,689.7 608.3,690.5 618.3,692.2 628.2,694.0 639.0,694.5 648.9,698.2 658.9,699.5 668.9,699.7 678.9,699.7 688.9,700.9 699.3,704.4 709.3,704.2 719.3,702.4 729.3,703.4 739.3,701.2 750.0,700.2 760.0,701.2 770.0,701.9 780.0,700.4 790.0,699.2 800.0,700.7 810.0,699.7 820.0,698.7 830.0,699.7 840.0,700.4 850.0,701.7 860.0,702.4 870.0,702.2 880.0,703.2 890.0,704.9 900.0,705.4 910.0,705.7 920.0,705.2 931.0,703.2 941.0,701.9 951.0,701.2 961.0,702.4 971.0,703.9 981.0,704.4 991.0,705.2 1001.5,706.2 1011.5,703.2 1021.4,704.4 1031.4,705.2 1041.4,705.4 1051.9,706.7 1061.9,707.4 1071.8,708.7 1081.8,709.4 1091.8,708.4 1101.8,709.7 1112.5,711.2 1122.5,711.9 1133.2,711.4 1143.7,706.4 1153.6,703.7 1163.6,702.4 1173.6,701.4 1183.6,701.9 1193.6,699.5 1203.5,700.9 1213.5,699.5 1223.5,699.5 1233.5,699.5 1243.5,700.4 1253.9,701.4 1263.9,702.7 1273.9,700.2 1283.9,695.5 1293.9,695.0 1303.8,696.2 1313.8,695.2 1324.6,695.7 1334.5,692.5 1344.5,696.5 1355.2,694.5 1365.2,693.5 1375.2,692.5 1385.2,692.5 1395.2,690.7" fill="none" stroke="#b22833" stroke-width="1.0" stroke-linejoin="round" />
<polyline points="3.2,782.8 13.2,796.5 23.2,799.0 33.7,794.8 43.7,795.5 53.6,791.0 63.6,786.0 73.6,782.8 83.6,779.3 93.6,773.6 103.5,771.6 113.5,769.3 124.0,767.6 134.0,759.8 144.0,757.3 153.9,756.6 163.9,752.3 173.9,749.4 184.6,747.6 194.6,750.8 204.6,753.8 214.6,754.8 224.6,755.1 234.5,754.6 244.5,755.3 254.5,757.3 265.2,759.3 274.5,759.3 284.4,758.6 294.4,760.8 304.4,764.3 315.1,769.1 325.1,771.3 335.1,777.3 345.6,780.3 355.5,774.3 365.5,772.3 376.2,765.3 386.2,760.8 396.2,765.1 406.9,756.1 417.4,757.1 427.4,758.1 437.4,755.3 447.3,749.9 457.3,743.6 467.3,743.4 477.3,749.1 487.3,746.1 497.2,748.6 507.2,759.6 517.2,759.8 527.7,759.8 537.7,765.6 547.6,772.3 558.4,774.8 568.4,767.8 578.3,759.3 588.3,762.8 598.3,764.3 608.3,760.3 618.3,761.8 628.2,759.3 639.0,753.1 648.9,755.8 658.9,752.6 668.9,749.4 678.9,752.3 688.9,755.6 699.3,756.3 709.3,756.8 719.3,764.1 729.3,765.3 739.3,765.3 750.0,772.3 760.0,773.6 770.0,776.8 780.0,775.8 790.0,767.3 800.0,764.1 810.0,774.3 820.0,786.0 830.0,782.3 840.0,774.8 850.0,776.5 861.0,773.3 871.0,776.8 881.0,777.0 891.0,775.5 901.0,769.3 911.0,761.1 921.0,757.1 931.0,750.6 941.0,757.3 951.0,770.1 961.0,765.8 971.0,762.3 981.0,766.8 991.0,769.8 1001.5,776.0 1011.5,787.0 1022.0,795.0 1032.0,784.8 1042.0,777.8 1051.9,771.3 1061.9,767.3 1071.8,765.3 1081.8,765.3 1091.8,762.8 1101.8,762.6 1112.5,761.3 1122.5,761.3 1133.2,754.3 1143.7,736.1 1152.9,727.9 1163.6,732.9 1173.6,739.4 1183.6,743.6 1193.6,745.9 1203.5,748.9 1213.5,753.6 1223.5,754.8 1233.5,756.8 1243.5,758.3 1253.9,759.6 1263.9,760.3 1273.9,758.3 1283.9,756.6 1293.9,760.3 1299.6,760.3 1313.8,758.1 1324.6,756.3 1334.5,746.1 1344.5,741.1 1355.2,739.9 1365.2,740.1 1375.2,741.9 1385.2,746.4 1395.2,749.6" fill="none" stroke="#2962ff" stroke-width="1.0" stroke-linejoin="round" />
<circle cx="21" cy="18.9" r="9" fill="#d69e05"/>
<path d="M19.2,15.0H22.8L24.2,18.0H17.8Z M15.8,19.1H18.75L20.3,22.0H14.1Z M23.1,19.1H26.1L27.9,22.0H21.7Z M14.1,21.6H27.9V22.1H14.1Z" fill="#fff"/>
<text x="34.3" y="24.7" textLength="244.7" lengthAdjust="spacing" font-size="15.5px" fill="#4a4a4a">CFDs on Gold (US$ / OZ) · 1D · TVC</text>
<circle cx="302.8" cy="18.8" r="9" fill="#d6f0ea"/><circle cx="302.8" cy="18.8" r="4" fill="#089981"/>
<text x="328.7" y="24.1" font-size="12.5px" textLength="54.3" lengthAdjust="spacing"><tspan fill="#555">O</tspan><tspan fill="#2b6e4f">2290.15</tspan></text>
<text x="389.8" y="24.1" font-size="12.5px" textLength="54.6" lengthAdjust="spacing"><tspan fill="#555">H</tspan><tspan fill="#2b6e4f">2309.26</tspan></text>
<text x="451.7" y="24.1" font-size="12.5px" textLength="51.9" lengthAdjust="spacing"><tspan fill="#555">L</tspan><tspan fill="#2b6e4f">2267.96</tspan></text>
<text x="510.4" y="24.1" font-size="12.5px" textLength="53.0" lengthAdjust="spacing"><tspan fill="#555">C</tspan><tspan fill="#2b6e4f">2309.01</tspan></text>
<text x="571.5" y="24.1" textLength="91.0" lengthAdjust="spacing" font-size="12.5px" fill="#2b6e4f">+20.01 (+0.87%)</text>
<rect x="11.5" y="35.5" width="61" height="23" rx="4" fill="#fff" stroke="#f23645" stroke-width="1"/>
<text x="19.0" y="51.8" textLength="45.2" lengthAdjust="spacing" font-size="12.5px" fill="#f23645">2309.24</text>
<text x="80.8" y="51.0" textLength="11.3" lengthAdjust="spacingAndGlyphs" font-size="11px" fill="#222">23</text>
<rect x="100.5" y="35.5" width="61.5" height="23" rx="4" fill="#fff" stroke="#2962ff" stroke-width="1"/>
<text x="108.8" y="51.8" textLength="44.6" lengthAdjust="spacing" font-size="12.5px" fill="#2962ff">2309.48</text>
<text x="12.1" y="79.8" class="lg" textLength="383.4" lengthAdjust="spacing" >MA Ribbon SMA close 20 SMA close 50 SMA close 100 SMA close 200</text>
<text x="403.8" y="79.8" textLength="44.7" lengthAdjust="spacing" font-size="12px" fill="#f23645">2205.89</text>
<text x="455.2" y="79.8" textLength="45.2" lengthAdjust="spacing" font-size="12px" fill="#2962ff">2111.47</text>
<text x="507.8" y="79.8" font-size="13px" fill="#333">ø</text>
<text x="520.9" y="79.8" textLength="44.7" lengthAdjust="spacing" font-size="12px" fill="#222">2000.13</text>
<rect x="12.5" y="89.5" width="28" height="20" rx="3.5" fill="#fff" fill-opacity="0.88" stroke="#d1d4dc" stroke-width="1"/>
<path d="M22.3,101.6 L26.5,97.5 L30.7,101.6" fill="none" stroke="#222" stroke-width="1.4"/>
<text x="12.0" y="706.0" class="lg" textLength="66.6" lengthAdjust="spacing" >ATR 14 RMA</text>
<text x="87.8" y="706.0" textLength="31.2" lengthAdjust="spacing" font-size="12px" fill="#b22833">28.62</text>
<text x="12.0" y="745.0" class="lg" textLength="101.5" lengthAdjust="spacing" >CCI 20 hlc3 SMA 5</text>
<text x="122.8" y="745.0" textLength="36.9" lengthAdjust="spacing" font-size="12px" fill="#2962ff">145.91</text>
<path d="M15,775 H27 V790 H20.9 V781.2 H15 Z M37.8,775 H45.1 L39,790 H31.9 Z" fill="#fff" stroke="#fff" stroke-width="4" stroke-linejoin="miter"/>
<circle cx="31.9" cy="778" r="5" fill="#fff"/>
<path d="M15,775 H27 V790 H20.9 V781.2 H15 Z M37.8,775 H45.1 L39,790 H31.9 Z" fill="#131722"/>
<circle cx="31.9" cy="778" r="3" fill="#131722"/>
<text x="1468.4" y="40.7" class="ax" textLength="41.5" lengthAdjust="spacing" >2360.00</text>
<text x="1468.4" y="84.7" class="ax" textLength="41.5" lengthAdjust="spacing" >2320.00</text>
<text x="1468.4" y="127.7" class="ax" textLength="41.5" lengthAdjust="spacing" >2280.00</text>
<text x="1468.4" y="171.7" class="ax" textLength="41.5" lengthAdjust="spacing" >2240.00</text>
<text x="1468.4" y="214.7" class="ax" textLength="41.5" lengthAdjust="spacing" >2200.00</text>
<text x="1468.4" y="258.7" class="ax" textLength="41.5" lengthAdjust="spacing" >2160.00</text>
<text x="1468.4" y="301.7" class="ax" textLength="41.5" lengthAdjust="spacing" >2120.00</text>
<text x="1468.4" y="345.7" class="ax" textLength="41.5" lengthAdjust="spacing" >2080.00</text>
<text x="1468.4" y="389.7" class="ax" textLength="41.5" lengthAdjust="spacing" >2040.00</text>
<text x="1468.4" y="432.7" class="ax" textLength="41.5" lengthAdjust="spacing" >2000.00</text>
<text x="1468.4" y="476.7" class="ax" textLength="41.5" lengthAdjust="spacing" >1960.00</text>
<text x="1468.4" y="519.7" class="ax" textLength="41.5" lengthAdjust="spacing" >1920.00</text>
<text x="1468.4" y="563.7" class="ax" textLength="41.5" lengthAdjust="spacing" >1880.00</text>
<text x="1468.4" y="606.7" class="ax" textLength="41.5" lengthAdjust="spacing" >1840.00</text>
<text x="1468.4" y="650.7" class="ax" textLength="41.5" lengthAdjust="spacing" >1800.00</text>
<text x="1468.5" y="712.9" class="ax" textLength="29.1" lengthAdjust="spacing" >20.00</text>
<text x="1468.5" y="771.3" class="ax" textLength="22.4" lengthAdjust="spacing" >0.00</text>
<rect x="1461" y="3" width="58" height="33" fill="#fff"/>
<rect x="1464.5" y="7.5" width="51" height="25" rx="4" fill="#fff" stroke="#e0e3eb" stroke-width="1"/>
<text x="1468.0" y="24.0" textLength="20.6" lengthAdjust="spacingAndGlyphs" font-size="12.5px" fill="#131722">USD</text>
<path d="M1506,19.6 L1508.5,22 L1511,19.6" fill="none" stroke="#131722" stroke-width="1.5"/>
<rect class="c" x="1460" y="3" width="1" height="829" fill="#4a4a4a"/>
<path d="M1460,210 H1513.5 Q1516,210 1516,212.5 V224.5 Q1516,227 1513.5,227 H1460 Z" fill="#000"/>
<text x="1468.3" y="223.0" class="bl" textLength="41.6" lengthAdjust="spacing" >2193.44</text>
<path d="M1460,261 H1513.5 Q1516,261 1516,263.5 V275.5 Q1516,278 1513.5,278 H1460 Z" fill="#000"/>
<text x="1468.3" y="274.0" class="bl" textLength="41.6" lengthAdjust="spacing" >2147.28</text>
<path d="M1460,434 H1513.5 Q1516,434 1516,436.5 V448.5 Q1516,451 1513.5,451 H1460 Z" fill="#000"/>
<text x="1468.3" y="447.0" class="bl" textLength="41.6" lengthAdjust="spacing" >1987.90</text>
<path d="M1460,451 H1513.5 Q1516,451 1516,453.5 V465.5 Q1516,468 1513.5,468 H1460 Z" fill="#000"/>
<text x="1468.3" y="464.0" class="bl" textLength="41.6" lengthAdjust="spacing" >1972.75</text>
<path d="M1460,499 H1513.5 Q1516,499 1516,501.5 V513.5 Q1516,516 1513.5,516 H1460 Z" fill="#000"/>
<text x="1468.3" y="512.0" class="bl" textLength="41.6" lengthAdjust="spacing" >1928.04</text>
<path d="M1460,627 H1513.5 Q1516,627 1516,629.5 V641.5 Q1516,644 1513.5,644 H1460 Z" fill="#000"/>
<text x="1468.3" y="640.0" class="bl" textLength="41.6" lengthAdjust="spacing" >1810.48</text>
<rect class="c" x="3" y="804" width="1517" height="1" fill="#4a4a4a"/>
<clipPath id="tc"><rect x="3" y="805" width="1457" height="27"/></clipPath>
<g clip-path="url(#tc)">
<text x="43.5" y="822" class="tm">Oct</text>
<text x="144.5" y="822" class="tm">16</text>
<text x="265.5" y="822" class="tm">Nov</text>
<text x="346.5" y="822" class="tm">13</text>
<text x="487.5" y="822" class="tm">Dec</text>
<text x="598.5" y="822" class="tm">18</text>
<text x="699.5" y="822" class="tm" style="font-weight:bold;fill:#3a3d46">2024</text>
<text x="800.5" y="822" class="tm">15</text>
<text x="931.5" y="822" class="tm">Feb</text>
<text x="1052.5" y="822" class="tm">19</text>
<text x="1143.5" y="822" class="tm">Mar</text>
<text x="1254.5" y="822" class="tm">18</text>
<text x="1355.5" y="822" class="tm">Apr</text>
<text x="1456.5" y="822" class="tm">15</text>
</g>
<polygon points="1497.6,818.4 1494.0,824.6 1486.8,824.6 1483.2,818.4 1486.8,812.2 1494.0,812.2" fill="none" stroke="#131722" stroke-width="1.1"/>
<circle cx="1490.4" cy="818.4" r="1.9" fill="none" stroke="#131722" stroke-width="1.1"/>
<defs><filter id="ws" x="-5%" y="-10%" width="112%" height="125%"><feGaussianBlur in="SourceAlpha" stdDeviation="0.95" result="b"/><feOffset in="b" dx="1.7" dy="1.7" result="o"/><feComponentTransfer in="o" result="s"><feFuncA type="linear" slope="0.56"/></feComponentTransfer><feMerge><feMergeNode in="s"/><feMergeNode in="SourceGraphic"/></feMerge></filter></defs>
<g opacity="0.86" filter="url(#ws)" fill="#fff">
<path d="M1288.5,741.5 L1300.5,741.5 L1296.5,758.0 L1284.5,758.0 Z M1283.5,761.0 L1294.5,761.0 L1291.1,775.0 L1280.1,775.0 Z M1275.0,796.5 L1284.5,796.5 L1296.0,777.5 L1285.5,777.5 Z M1313.0,741.0 L1325.0,741.0 L1323.8,746.0 L1311.8,746.0 Z M1302.0,743.5 L1342.0,743.5 L1340.3,750.5 L1300.3,750.5 Z M1351.5,742.0 L1400.0,742.0 L1398.2,749.5 L1349.7,749.5 Z M1391.0,742.0 L1400.0,742.0 L1386.6,797.0 L1377.6,797.0 Z M1348.0,749.5 L1357.0,749.5 L1353.7,763.0 L1344.7,763.0 Z M1345.5,763.0 L1394.0,763.0 L1392.1,771.0 L1343.6,771.0 Z M1340.5,779.0 L1380.5,779.0 L1378.7,786.5 L1338.7,786.5 Z M1365.5,789.0 L1388.0,789.0 L1386.1,797.0 L1363.6,797.0 Z M1404.5,743.0 L1413.5,743.0 L1403.8,783.0 L1394.8,783.0 Z M1404.5,743.0 L1434.0,743.0 L1431.9,751.5 L1402.4,751.5 Z M1424.5,743.0 L1434.0,743.0 L1424.3,783.0 L1414.8,783.0 Z M1414.5,751.5 L1423.5,751.5 L1416.0,783.0 L1402.0,796.5 L1393.5,796.5 L1407.0,783.0 Z M1408.0,783.0 L1417.0,783.0 L1422.0,796.5 L1411.0,796.5 Z M1453.5,742.0 L1463.5,742.0 L1450.1,797.0 L1440.1,797.0 Z M1431.0,747.0 L1464.0,747.0 L1462.2,754.5 L1429.2,754.5 Z M1438.8,754.5 L1449.0,754.5 L1430.5,795.5 L1420.5,795.5 Z M1437.5,788.5 L1450.5,788.5 L1448.6,796.5 L1435.6,796.5 Z"/>
<path fill-rule="evenodd" d="M1301.0,756.5 L1338.0,756.5 L1328.5,795.5 L1291.5,795.5 Z M1310.0,763.5 L1328.0,763.5 L1326.2,771.0 L1308.2,771.0 Z M1304.5,779.0 L1322.0,779.0 L1319.7,788.5 L1302.2,788.5 Z"/>
<path d="M1316.0,763.5 L1321.0,763.5 L1319.2,771.0 L1314.2,771.0 Z M1310.0,779.0 L1315.0,779.0 L1312.7,788.5 L1307.7,788.5 Z"/>
<g transform="translate(1467.5,741) skewX(-14) scale(0.85,1)" fill="none" stroke="#fff" stroke-width="8.6" stroke-linejoin="miter" stroke-linecap="butt">
<polyline points="24.0,2.0 8.0,18.0"/>
<polyline points="6.0,20.0 27.0,20.0"/>
<polyline points="28.0,18.0 9.0,35.0"/>
<polyline points="5.0,37.0 28.0,37.0"/>
<polyline points="0.0,51.0 26.0,49.0"/>
<polyline points="30.0,6.0 62.0,6.0"/>
<polyline points="62.0,4.0 38.0,30.0"/>
<polyline points="44.0,15.0 62.0,27.0"/>
<polyline points="28.0,34.0 63.0,34.0"/>
<polyline points="45.0,34.0 45.0,50.0"/>
<polyline points="25.0,51.0 60.0,51.0"/>
</g>
</g>
<defs><filter id="bs" x="-5%" y="-20%" width="110%" height="140%"><feGaussianBlur in="SourceAlpha" stdDeviation="0.5" result="b"/><feOffset in="b" dx="1.3" dy="1.3" result="o"/><feComponentTransfer in="o" result="s"><feFuncA type="linear" slope="0.45"/></feComponentTransfer><feMerge><feMergeNode in="s"/><feMergeNode in="SourceGraphic"/></feMerge></filter></defs>
<g filter="url(#bs)" opacity="0.82" font-size="30.0px" font-weight="bold" font-style="italic" fill="#6f93ea" stroke="#6f93ea" stroke-width="1.4" stroke-linejoin="round">
<text transform="translate(1288.6,829.3) scale(1.307,1)" x="0" y="0">z</text>
<text transform="translate(1315.0,829.3) scale(1.307,1)" x="0" y="0">z</text>
<text transform="translate(1343.0,829.3) scale(1.337,1)" x="0" y="0">r</text>
<text transform="translate(1368.0,829.3) scale(1.451,1)" x="0" y="0">t</text>
<text transform="translate(1387.6,829.3) scale(1.127,1)" x="0" y="0">0</text>
<text transform="translate(1421.0,829.3) scale(0.863,1)" x="0" y="0">1</text>
<path d="M1447.6,823.3 L1453.6,823.3 L1452.3,829.8 L1446.3,829.8 Z"/>
<text transform="translate(1466.0,829.3) scale(0.929,1)" x="0" y="0">c</text>
<text transform="translate(1491.7,829.3) scale(1.075,1)" x="0" y="0">n</text>
</g>
</svg></body></html>
